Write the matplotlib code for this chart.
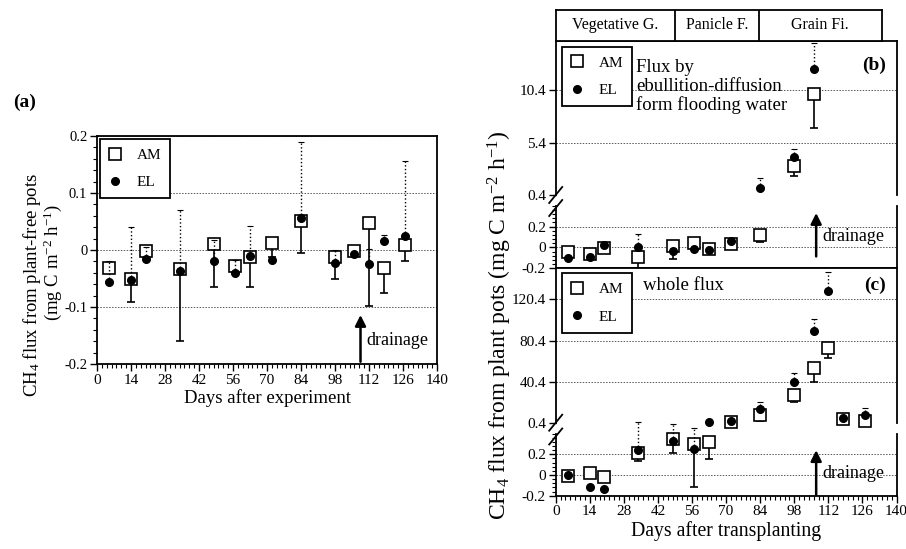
import numpy as np
import matplotlib
matplotlib.use('Agg')
import matplotlib.pyplot as plt
from matplotlib.ticker import MultipleLocator, FixedLocator, FuncFormatter
from matplotlib.lines import Line2D

plt.rcParams['font.family'] = ['Liberation Serif', 'DejaVu Serif']
plt.rcParams['mathtext.fontset'] = 'custom'
plt.rcParams['mathtext.rm'] = 'Liberation Serif'
plt.rcParams['mathtext.it'] = 'Liberation Serif:italic'
plt.rcParams['mathtext.bf'] = 'Liberation Serif:bold'

# (a) plant-free pots
days_a = [5, 14, 20, 34, 48, 57, 63, 72, 84, 98, 106, 112, 118, 127]
am_a = [-0.031, -0.050, -0.002, -0.033, 0.011, -0.028, -0.012, 0.012, 0.051, -0.012, -0.001, 0.048, -0.031, 0.008]
am_a_sd = [0.008, 0.041, 0.010, 0.127, 0.076, 0.010, 0.053, 0.025, 0.056, 0.039, 0.0, 0.146, 0.044, 0.027]
el_a = [-0.056, -0.053, -0.015, -0.037, -0.020, -0.040, -0.010, -0.018, 0.057, -0.023, -0.007, -0.025, 0.015, 0.025]
el_a_sd = [0.037, 0.094, 0.021, 0.108, 0.037, 0.022, 0.052, 0.0, 0.132, 0.023, 0.0, 0.026, 0.011, 0.131]

# (b) ebullition-diffusion flux
days_b = [5, 14, 20, 34, 48, 57, 63, 72, 84, 98, 106]
am_b = [-0.048, -0.060, -0.006, -0.092, 0.010, 0.042, -0.015, 0.032, 0.120, 3.2, 10.0]
am_b_sd = [0.010, 0.010, 0.010, 0.110, 0.120, 0.020, 0.010, 0.020, 0.070, 1.0, 3.2]
el_b = [-0.105, -0.092, 0.020, 0.000, -0.038, -0.015, -0.020, 0.057, 1.04, 4.0, 12.4]
el_b_sd = [0.0, 0.0, 0.0, 0.130, 0.030, 0.0, 0.0, 0.020, 0.96, 0.8, 2.45]

# (c) whole flux
days_c = [5, 14, 20, 34, 48, 57, 63, 72, 84, 98, 106, 112, 118, 127]
am_c = [-0.007, 0.016, -0.016, 0.215, 0.348, 0.297, 0.322, 0.8, 7.9, 27.4, 53.3, 72.8, 4.0, 2.3]
am_c_sd = [0.0, 0.020, 0.045, 0.075, 0.133, 0.417, 0.167, 0.0, 5.6, 7.1, 13.0, 9.2, 0.0, 0.0]
el_c = [0.0, -0.119, -0.135, 0.240, 0.328, 0.251, 0.8, 2.3, 13.7, 39.7, 89.6, 128.9, 5.3, 7.9]
el_c_sd = [0.0, 0.0, 0.0, 0.270, 0.160, 0.200, 0.0, 0.0, 6.6, 8.8, 11.7, 18.5, 0.0, 6.5]

stage_names = ['Vegetative G.', 'Panicle F.', 'Grain Fi.']
stage_edges = [0, 49, 83.5, 134]

BREAK = 0.4
W, H = 906, 549
fig = plt.figure(figsize=(W / 100, H / 100), dpi=100)


def rect(x0, x1, y0, y1):
    # pixel box (y from top) -> figure fraction
    return [x0 / W, 1 - y1 / H, (x1 - x0) / W, (y1 - y0) / H]


def fx(x):
    return x / W


def fy(y):
    return 1 - y / H


fmt = FuncFormatter(lambda v, p: '0' if abs(v) < 1e-9 else f'{v:g}')


def style(ax, xticks=True):
    for s in ax.spines.values():
        s.set_linewidth(1.3)
    ax.tick_params(which='major', direction='out', length=5, width=1, labelsize=11, pad=2)
    ax.tick_params(which='minor', direction='out', length=3, width=0.8)
    ax.tick_params(right=False, top=False, which='both')
    ax.set_xlim(0, 140)
    if xticks:
        ax.xaxis.set_major_locator(MultipleLocator(14))
        ax.xaxis.set_minor_locator(MultipleLocator(2))
    else:
        ax.tick_params(axis='x', which='both', bottom=False, labelbottom=False)
    ax.yaxis.set_major_formatter(fmt)
    ax.yaxis.grid(True, linestyle=(0, (1.5, 1.5)), color='0.35', linewidth=0.7)
    ax.set_axisbelow(True)


def plot_am(ax, d, v, sd):
    eb = ax.errorbar(d, v, yerr=[sd, np.zeros(len(sd))], fmt='s', ms=8, mfc='white', mec='k',
                     mew=1.2, ecolor='k', elinewidth=1.2, capsize=3, capthick=1.2, zorder=3)
    eb[0].set_clip_on(False)
    for a in list(eb[1]) + list(eb[2]):
        a.set_clip_on(False)


def plot_el(ax, d, v, sd):
    eb = ax.errorbar(d, v, yerr=[np.zeros(len(sd)), sd], fmt='o', ms=5.5, mfc='k', mec='k',
                     ecolor='k', elinewidth=1.0, capsize=2.5, capthick=0.8, zorder=4)
    eb[2][0].set_linestyle(':')
    eb[0].set_clip_on(False)
    for a in list(eb[1]) + list(eb[2]):
        a.set_clip_on(False)


def split_plot(ax_up, ax_lo, days, vals, sd, func):
    days, vals, sd = np.asarray(days), np.asarray(vals), np.asarray(sd)
    up = vals >= BREAK
    func(ax_up, days[up], vals[up], sd[up])
    func(ax_lo, days[~up], vals[~up], sd[~up])


def legend(ax, anchor):
    h = [Line2D([], [], marker='s', ls='none', ms=8, mfc='white', mec='k', mew=1.2),
         Line2D([], [], marker='o', ls='none', ms=5.5, mfc='k', mec='k')]
    lg = ax.legend(h, ['AM', 'EL'], loc='upper left', bbox_to_anchor=anchor, borderaxespad=0,
                   fontsize=11, handlelength=0.8, handletextpad=1.0, labelspacing=0.9,
                   borderpad=0.6, fancybox=False, edgecolor='k', framealpha=1)
    lg.get_frame().set_linewidth(1.3)
    lg.set_zorder(6)


def drainage(ax, x, y0, y1, ytxt):
    ax.annotate('', xy=(x, y1), xytext=(x, y0),
                arrowprops=dict(arrowstyle='-|>', lw=1.8, color='k', mutation_scale=16,
                                shrinkA=0, shrinkB=0))
    ax.text(x + 2.5, ytxt, 'drainage', fontsize=13, va='center', ha='left')


def slash(xpix, ypix):
    fig.add_artist(Line2D([fx(xpix - 6.5), fx(xpix + 6.5)], [fy(ypix + 8), fy(ypix - 8)],
                          color='k', lw=1.3))


# ---------- panel (a) ----------
ax_a = fig.add_axes(rect(97, 437, 136, 364))
style(ax_a)
ax_a.tick_params(axis='y', labelsize=10.5)
ax_a.set_ylim(-0.2, 0.2)
ax_a.yaxis.set_major_locator(MultipleLocator(0.1))
ax_a.yaxis.set_minor_locator(MultipleLocator(0.02))
plot_am(ax_a, days_a, am_a, am_a_sd)
plot_el(ax_a, days_a, el_a, el_a_sd)
legend(ax_a, (3 / 340, 1 - 3 / 228))
drainage(ax_a, 108.5, -0.196, -0.114, -0.159)
ax_a.set_xlabel('Days after experiment', fontsize=13.5, labelpad=2)
fig.text(fx(25), fy(102), '(a)', fontsize=14, fontweight='bold', ha='center', va='center')
fig.text(fx(32), fy(285), 'CH$_4$ flux from plant-free pots', fontsize=13.5, rotation=90,
         ha='center', va='center')
fig.text(fx(53), fy(262), '(mg C m$^{-2}$ h$^{-1}$)', fontsize=13.5, rotation=90,
         ha='center', va='center')

# ---------- panels (b) and (c) ----------
XL, XR = 555.7, 896.5
ax_bu = fig.add_axes(rect(XL, XR, 40.7, 195))
ax_bl = fig.add_axes(rect(XL, XR, 205.7, 268.3))
ax_cu = fig.add_axes(rect(XL, XR, 268.3, 422.7))
ax_cl = fig.add_axes(rect(XL, XR, 433.6, 495.7))

for ax in (ax_bu, ax_cu):
    style(ax, xticks=False)
    ax.spines['bottom'].set_visible(False)
for ax in (ax_bl, ax_cl):
    ax.spines['top'].set_visible(False)
style(ax_bl, xticks=False)
style(ax_cl, xticks=True)

ax_bu.set_ylim(BREAK, 15.1)
ax_bu.yaxis.set_major_locator(FixedLocator([0.4, 5.4, 10.4]))
ax_cu.set_ylim(BREAK, 150.7)
ax_cu.yaxis.set_major_locator(FixedLocator([0.4, 40.4, 80.4, 120.4]))
for ax in (ax_bl, ax_cl):
    ax.set_ylim(-0.2, 0.4)
    ax.yaxis.set_major_locator(FixedLocator([-0.2, 0, 0.2]))
    ax.yaxis.set_minor_locator(FixedLocator(np.arange(-0.2, 0.41, 0.04)))

split_plot(ax_bu, ax_bl, days_b, am_b, am_b_sd, plot_am)
split_plot(ax_bu, ax_bl, days_b, el_b, el_b_sd, plot_el)
split_plot(ax_cu, ax_cl, days_c, am_c, am_c_sd, plot_am)
split_plot(ax_cu, ax_cl, days_c, el_c, el_c_sd, plot_el)

legend(ax_bu, (6 / 340.8, 1 - 6 / 154.3))
legend(ax_cu, (6 / 340.8, 1 - 5 / 154.4))

ax_bu.text(0.235, 0.88, 'Flux by\nebullition-diffusion\nform flooding water', transform=ax_bu.transAxes,
           fontsize=13.5, va='top', ha='left', linespacing=1.12)
ax_bu.text(0.97, 0.84, '(b)', transform=ax_bu.transAxes, fontsize=14, fontweight='bold',
           ha='right', va='center')
ax_cu.text(0.255, 0.89, 'whole flux', transform=ax_cu.transAxes, fontsize=13.5, va='center', ha='left')
ax_cu.text(0.97, 0.89, '(c)', transform=ax_cu.transAxes, fontsize=14, fontweight='bold',
           ha='right', va='center')

drainage(ax_bl, 107, -0.086, 0.33, 0.105)
drainage(ax_cl, 107, -0.19, 0.24, 0.01)

ax_cl.set_xlabel('Days after transplanting', fontsize=14.2, labelpad=2)
fig.text(fx(500), fy(325), 'CH$_4$ flux from plant pots (mg C m$^{-2}$ h$^{-1}$)', fontsize=17,
         rotation=90, ha='center', va='center')

# axis break marks
slash(XL, 195)
slash(XL, 208)
slash(XL, 422.7)
slash(XL, 436.5)

# growth stage bar
ax_s = fig.add_axes(rect(XL, 881.7, 10, 40.7))
ax_s.set_xlim(stage_edges[0], stage_edges[-1])
ax_s.set_ylim(0, 1)
ax_s.set_xticks([])
ax_s.set_yticks([])
for s in ax_s.spines.values():
    s.set_linewidth(1.3)
for i, name in enumerate(stage_names):
    if i > 0:
        ax_s.axvline(stage_edges[i], color='k', lw=1.3)
    ax_s.text((stage_edges[i] + stage_edges[i + 1]) / 2, 0.5, name, fontsize=11.5,
              ha='center', va='center')

fig.savefig('out.png', dpi=100)
